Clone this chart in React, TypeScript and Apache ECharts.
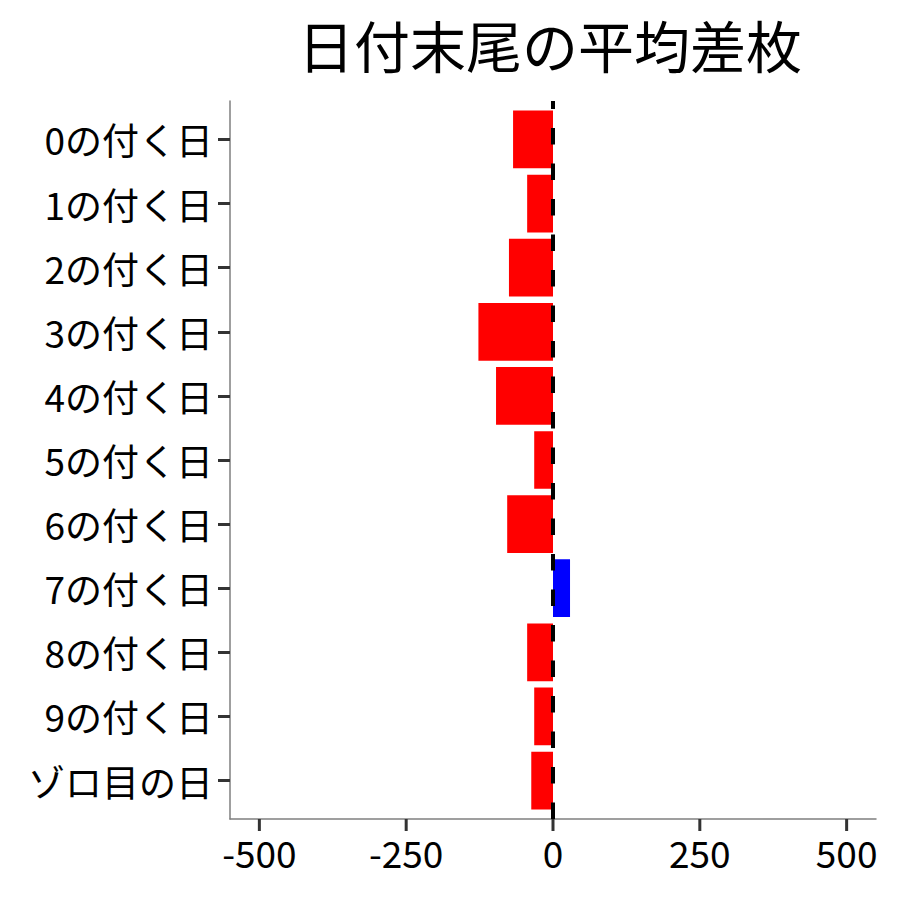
import React, { useEffect, useRef } from "react";
import * as echarts from "echarts";

const categories = [
  "0の付く日",
  "1の付く日",
  "2の付く日",
  "3の付く日",
  "4の付く日",
  "5の付く日",
  "6の付く日",
  "7の付く日",
  "8の付く日",
  "9の付く日",
  "ゾロ目の日",
];
const values = [-68, -44, -75, -127, -97, -32, -78, 29, -44, -32, -37];
const xTicks = [-500, -250, 0, 250, 500];
const xTickLabels = ["-500", "-250", "0", "250", "500"];
const xLimit = 550;
const title = "日付末尾の平均差枚";

const FONT = "'Noto Sans CJK JP', 'Noto Sans', sans-serif";

const L = 230;
const R = 24;
const T = 101;
const B = 81;
const TICK = 12;
const W = 900 - L - R;
const H = 900 - T - B;
const bandPad = (H / (categories.length + 0.2)) * 0.1;
const tickInset = (W * (xLimit - xTicks[xTicks.length - 1])) / (2 * xLimit);

export default function App() {
  const ref = useRef<HTMLDivElement>(null);
  useEffect(() => {
    if (!ref.current) return;
    const chart = echarts.init(ref.current, null, { renderer: "svg" });
    const axisLineStyle = { color: "#7f7f7f", width: 1.5 };
    chart.setOption({
      animation: false,
      backgroundColor: "#ffffff",
      textStyle: { fontFamily: FONT },
      title: {
        text: title,
        left: 545,
        top: 10,
        textAlign: "center",
        textStyle: { fontFamily: FONT, fontSize: 56, fontWeight: "normal", color: "#000" },
      },
      grid: [
        { left: L, right: R, top: T, bottom: B },
        { left: L, right: R, top: T + bandPad, bottom: B + bandPad },
        { left: L + tickInset, right: R + tickInset, top: T, bottom: B },
      ],
      xAxis: [
        {
          gridIndex: 0,
          type: "value",
          min: -xLimit,
          max: xLimit,
          splitLine: { show: false },
          axisLine: { show: true, onZero: false, lineStyle: axisLineStyle },
          axisTick: { show: false },
          axisLabel: { show: false },
        },
        { gridIndex: 1, type: "value", min: -xLimit, max: xLimit, show: false },
        {
          gridIndex: 2,
          type: "category",
          data: xTickLabels,
          boundaryGap: false,
          splitLine: { show: false },
          axisLine: { show: false, onZero: false },
          axisTick: { show: false },
          axisLabel: { interval: 0, fontFamily: FONT, fontSize: 37, color: "#000", margin: 14 },
        },
      ],
      yAxis: [
        {
          gridIndex: 0,
          type: "value",
          min: 0,
          max: 1,
          splitLine: { show: false },
          axisLine: { show: true, onZero: false, lineStyle: axisLineStyle },
          axisTick: { show: false },
          axisLabel: { show: false },
        },
        {
          gridIndex: 1,
          type: "category",
          data: categories,
          inverse: true,
          axisLine: { show: false, onZero: false },
          axisTick: {
            show: true,
            alignWithLabel: true,
            length: TICK,
            lineStyle: { color: "#333333", width: 3 },
          },
          axisLabel: { fontFamily: FONT, fontSize: 37, color: "#000", margin: 17 },
          splitLine: { show: false },
        },
        { gridIndex: 2, type: "value", show: false },
      ],
      series: [
        {
          type: "bar",
          xAxisIndex: 1,
          yAxisIndex: 1,
          data: values.map((v) => ({
            value: v,
            itemStyle: { color: v >= 0 ? "#0000ff" : "#ff0000" },
          })),
          barCategoryGap: "10%",
        },
        {
          type: "custom",
          xAxisIndex: 0,
          yAxisIndex: 0,
          clip: false,
          silent: true,
          z: 5,
          data: xTicks.map((v) => [v, 0]),
          encode: { x: 0, y: 1 },
          renderItem: (params: any, api: any) => {
            const p = api.coord([api.value(0), api.value(1)]);
            return {
              type: "rect",
              shape: { x: p[0] - 1.5, y: p[1], width: 3, height: TICK },
              style: { fill: "#333333" },
            };
          },
        },
        {
          type: "line",
          xAxisIndex: 0,
          yAxisIndex: 0,
          data: [],
          z: 10,
          markLine: {
            silent: true,
            symbol: ["none", "none"],
            label: { show: false },
            lineStyle: { color: "#000", width: 4, type: [16.5, 19], dashOffset: 0 },
            data: [{ xAxis: 0 }],
          },
        },
      ],
    });
    return () => chart.dispose();
  }, []);
  return (
    <div
      ref={ref}
      style={{ position: "fixed", left: 0, top: 0, width: 900, height: 900 }}
    />
  );
}
